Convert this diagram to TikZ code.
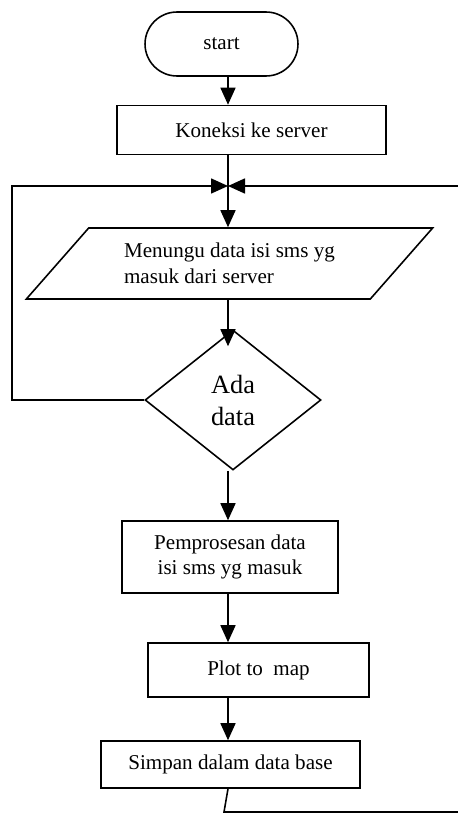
\documentclass[tikz,border=0pt]{standalone}
\usepackage{fontspec}
\setmainfont{Liberation Serif}
\usepackage{tikz}
\usetikzlibrary{positioning,arrows.meta,shapes.geometric,shapes.misc}

\begin{document}
\begin{tikzpicture}[
  x=0.02cm,y=-0.02cm,
  line width=0.9pt,
  >={Triangle[length=0.34cm,width=0.3cm]},
  txt/.style={font=\fontsize{12}{14.2}\selectfont,inner sep=0pt},
  termbox/.style={txt,draw,rounded rectangle,minimum width=3.06cm,minimum height=1.28cm},
  procbox/.style={txt,draw,rectangle,align=center},
  iobox/.style={txt,draw,trapezium,trapezium left angle=41.2,trapezium right angle=138.8,
    trapezium stretches=true,minimum height=1.42cm,align=left},
  decbox/.style={draw,diamond,inner sep=0pt,minimum width=3.52cm,minimum height=2.8cm,
    font=\fontsize{15}{18.2}\selectfont,align=center}
]
  \useasboundingbox (0,0) rectangle (457,821);

  % nodes
  \node[termbox] (start) at (221.5,44) {start};
  \node[procbox,minimum width=5.38cm,minimum height=0.98cm] (koneksi) at (251.5,130) {Koneksi ke server};
  \node[iobox,minimum width=8.14cm] (tunggu) at (229.5,263.5)
    {Menungu data isi sms yg\\[0.6pt]masuk dari server};
  \node[decbox] (ada) at (233,400) {Ada\\data};
  \node[procbox,minimum width=4.32cm,minimum height=1.44cm] (proses) at (230,557)
    {Pemprosesan data\\isi sms yg masuk};
  \node[procbox,minimum width=4.42cm,minimum height=1.08cm] (plot) at (258.5,670) {Plot to~ map};
  \node[procbox,minimum width=5.18cm,minimum height=0.94cm] (simpan) at (230.5,764.5) {Simpan dalam data base};

  % junction and loop corners
  \coordinate (jn) at (228,186);
  \coordinate (lt) at (12,186);
  \coordinate (lb) at (12,400);
  \coordinate (rt) at (460,186);
  \coordinate (bl) at (224,812);
  \coordinate (br) at (460,812);

  % main flow
  \foreach \a/\b in {start/koneksi,ada/proses,proses/plot,plot/simpan}
    \draw[->] (\a.south -| jn) -- (\b.north -| jn);
  \draw (koneksi.south -| jn) -- (jn);
  \draw[->] (jn) -- (tunggu.north -| jn);
  \draw[->,shorten >=-0.34cm] (tunggu.south -| jn) -- (ada.north -| jn);

  % loops back
  \draw[->] (ada.west) -- (lb) -- (lt) -- (jn);
  \draw[->] (rt) -- (jn);
  \draw (simpan.south -| jn) -- (bl) -- (br);
\end{tikzpicture}
\end{document}
